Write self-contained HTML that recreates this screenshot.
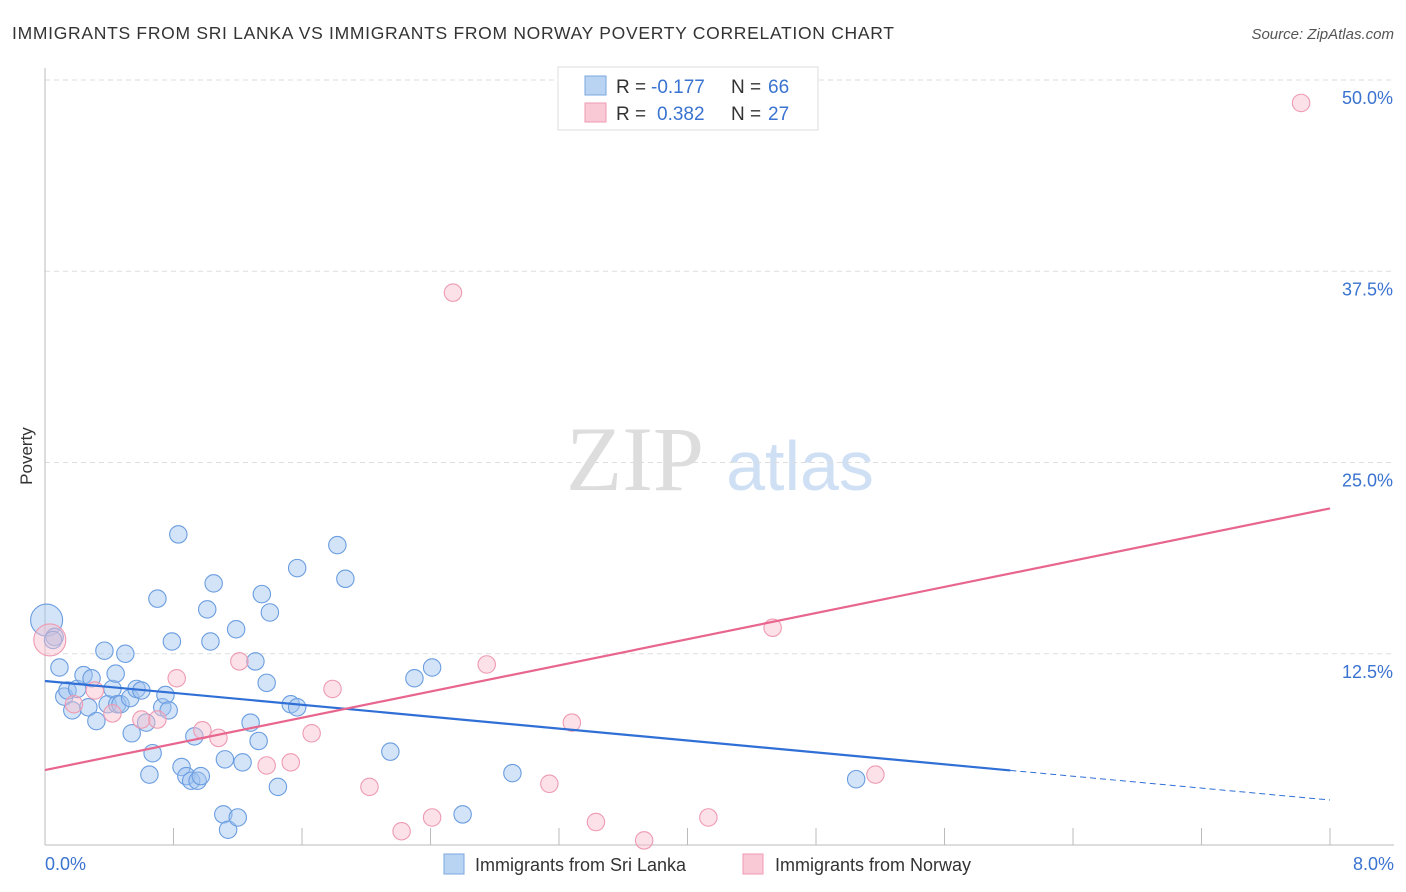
<!DOCTYPE html>
<html><head><meta charset="utf-8"><style>
body{margin:0;background:#fff;font-family:"Liberation Sans",sans-serif;}
svg{display:block}
</style></head><body>
<svg id="c" width="1406" height="892" xmlns="http://www.w3.org/2000/svg">
<text x="12" y="39" font-size="17.5" fill="#333" textLength="882">IMMIGRANTS FROM SRI LANKA VS IMMIGRANTS FROM NORWAY POVERTY CORRELATION CHART</text>
<text x="1394" y="39" font-size="15" fill="#555" font-style="italic" text-anchor="end">Source: ZipAtlas.com</text>
<text x="32" y="456" font-size="17" fill="#333" text-anchor="middle" transform="rotate(-90 32 456)">Poverty</text>
<g>
<text x="635" y="490" font-size="92" fill="#ddd" font-family="Liberation Serif,serif" text-anchor="middle">ZIP</text>
<text x="800" y="490" font-size="70" fill="#cfe0f5" text-anchor="middle">atlas</text>
</g>
<g id="grid"></g><g id="axes"></g><g id="pts"></g><g id="lines"></g>
<g>
<rect x="558" y="67" width="260" height="63" fill="#fff" stroke="#ddd"/>
<rect x="585" y="76" width="21" height="19" fill="#b9d3f3" stroke="#7aa7e0"/>
<rect x="585" y="103" width="21" height="19" fill="#f9c9d6" stroke="#ee9ab2"/>
<text x="616" y="93" font-size="19" fill="#333">R =</text>
<text x="651" y="93" font-size="19" fill="#3a73d0">-0.177</text>
<text x="731" y="93" font-size="19" fill="#333">N =</text>
<text x="768" y="93" font-size="19" fill="#3a73d0">66</text>
<text x="616" y="120" font-size="19" fill="#333">R =</text>
<text x="657" y="120" font-size="19" fill="#3a73d0">0.382</text>
<text x="731" y="120" font-size="19" fill="#333">N =</text>
<text x="768" y="120" font-size="19" fill="#3a73d0">27</text>
</g>
<g>
<rect x="444" y="854" width="20" height="20" fill="#b9d3f3" stroke="#7aa7e0"/>
<text x="475" y="871" font-size="18" fill="#333">Immigrants from Sri Lanka</text>
<rect x="743" y="854" width="20" height="20" fill="#f9c9d6" stroke="#ee9ab2"/>
<text x="775" y="871" font-size="18" fill="#333">Immigrants from Norway</text>
</g>
</svg>
<script>
const blueX=[0.01,0.06,0.05,0.09,0.12,0.14,0.17,0.2,0.24,0.27,0.29,0.32,0.37,0.39,0.42,0.44,0.45,0.47,0.5,0.53,0.54,0.57,0.6,0.63,0.65,0.67,0.7,0.73,0.75,0.77,0.79,0.83,0.85,0.88,0.91,0.93,0.95,0.97,1.01,1.03,1.05,1.11,1.12,1.14,1.19,1.2,1.23,1.28,1.31,1.33,1.35,1.38,1.4,1.45,1.53,1.57,1.57,1.82,1.87,2.15,2.3,2.41,2.6,2.91,5.05];
const blueY=[14.7,13.6,13.4,11.6,9.7,10.1,8.8,10.2,11.1,9.0,10.9,8.1,12.7,9.2,10.2,11.2,9.2,9.2,12.5,9.6,7.3,10.2,10.1,8.0,4.6,6.0,16.1,9.0,9.8,8.8,13.3,20.3,5.1,4.5,4.2,7.1,4.2,4.5,15.4,13.3,17.1,2.0,5.6,1.0,14.1,1.8,5.4,8.0,12.0,6.8,16.4,10.6,15.2,3.8,9.2,9.0,18.1,19.6,17.4,6.1,10.9,11.6,2.0,4.7,4.3];
const pinkX=[0.03,0.18,0.31,0.42,0.6,0.7,0.82,0.98,1.08,1.21,1.38,1.53,1.66,1.79,2.02,2.22,2.41,2.54,2.75,3.14,3.28,3.43,3.73,4.13,4.53,5.17,7.82];
const pinkY=[13.4,9.2,10.1,8.6,8.2,8.2,10.9,7.5,7.0,12.0,5.2,5.4,7.3,10.2,3.8,0.9,1.8,36.1,11.8,4.0,8.0,1.5,0.3,1.8,14.2,4.6,48.5];
const bigBlue=[0], bigPink=[0];
const blueTrend=[10.72,2.94], pinkTrend=[4.9,22.0], blueSolidEnd=6.01;
const yTicks=[12.5,25,37.5,50];
const ns="http://www.w3.org/2000/svg";
const X=v=>45+v*160.625, Y=v=>845-v*15.3;
function mk(t,a,p){const e=document.createElementNS(ns,t);for(const k in a)e.setAttribute(k,a[k]);p.appendChild(e);return e;}
const grid=document.getElementById('grid'),axes=document.getElementById('axes'),pts=document.getElementById('pts'),lines=document.getElementById('lines');
yTicks.forEach(v=>{
 const l=mk('line',{x1:45,x2:1394,y1:Y(v),y2:Y(v),stroke:'#ddd','stroke-dasharray':'5,4'},grid);
 
 
 const t=mk('text',{x:1393,y:Y(v)+24,'font-size':18,fill:'#3a73d0','text-anchor':'end'},grid);
 t.textContent=v.toFixed(1)+'%';
 
 
});
mk('line',{x1:45,x2:45,y1:68,y2:845,stroke:'#bbb'},axes);
mk('line',{x1:45,x2:1394,y1:845,y2:845,stroke:'#bbb'},axes);
for(let i=1;i<=10;i++){const t=mk('line',{x1:X(i*0.8),x2:X(i*0.8),y1:828,y2:845,stroke:'#bbb'},axes);
 
 }
let t0=mk('text',{x:45,y:870,'font-size':18,fill:'#3a73d0'},axes);t0.textContent='0.0%';


let t8=mk('text',{x:1394,y:870,'font-size':18,fill:'#3a73d0','text-anchor':'end'},axes);t8.textContent='8.0%';


blueX.forEach((x,i)=>{const c=mk('circle',{cx:X(x),cy:Y(blueY[i]),r:bigBlue.includes(i)?16:8.7,fill:'rgba(160,195,240,0.45)',stroke:'#6a9de0','stroke-width':1.1},pts);
 
 });
pinkX.forEach((x,i)=>{const c=mk('circle',{cx:X(x),cy:Y(pinkY[i]),r:bigPink.includes(i)?16:8.7,fill:'rgba(248,190,205,0.45)',stroke:'#ee9ab2','stroke-width':1.1},pts);
 
 });
const bAt=x=>blueTrend[0]+(blueTrend[1]-blueTrend[0])*x/8;
let b1=mk('line',{x1:X(0),y1:Y(blueTrend[0]),x2:X(blueSolidEnd),y2:Y(bAt(blueSolidEnd)),stroke:'#2f6fd6','stroke-width':2.2},lines);


let b2=mk('line',{x1:X(blueSolidEnd),y1:Y(bAt(blueSolidEnd)),x2:X(8),y2:Y(blueTrend[1]),stroke:'#2f6fd6','stroke-width':1,'stroke-dasharray':'6,4'},lines);


let p1=mk('line',{x1:X(0),y1:Y(pinkTrend[0]),x2:X(8),y2:Y(pinkTrend[1]),stroke:'#e8668e','stroke-width':2.2},lines);


</script>
</body></html>
